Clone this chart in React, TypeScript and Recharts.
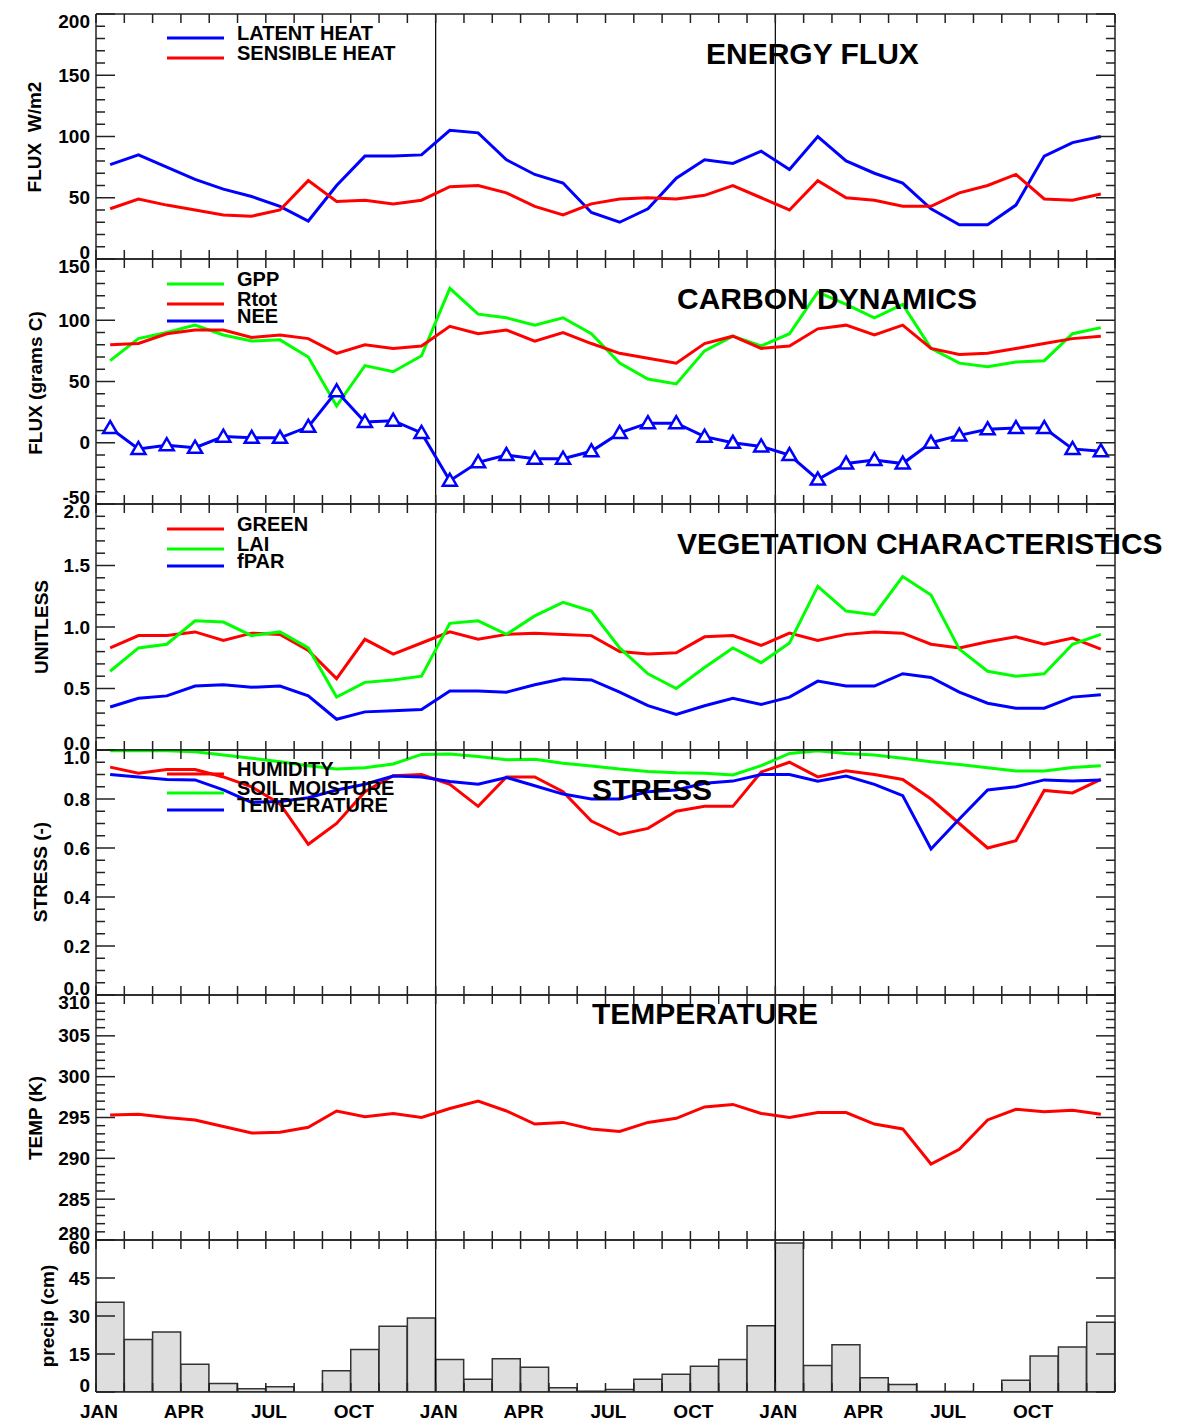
import React from "react";
import { LineChart, Line, BarChart, Bar, XAxis, YAxis, ReferenceLine } from "recharts";

// 3 years of monthly values
const LATENT = [77, 85, 75, 65, 57, 51, 43, 31, 60, 84, 84, 85, 105, 103, 81, 69, 62, 38, 30, 41, 66, 81, 78, 88, 73, 100, 80, 70, 62, 41, 28, 28, 44, 84, 95, 100];
const SENSIBLE = [41, 49, 44, 40, 36, 35, 40, 64, 47, 48, 45, 48, 59, 60, 54, 43, 36, 45, 49, 50, 49, 52, 60, 50, 40, 64, 50, 48, 43, 43, 54, 60, 69, 49, 48, 53];

const GPP = [67, 85, 90, 96, 88, 83, 84, 70, 30, 63, 58, 71, 126, 105, 102, 96, 102, 89, 65, 52, 48, 75, 87, 79, 89, 123, 113, 102, 113, 77, 65, 62, 66, 67, 89, 94];
const RTOT = [80, 81, 89, 92, 92, 86, 88, 85, 73, 80, 77, 79, 95, 89, 92, 83, 90, 81, 73, 69, 65, 81, 87, 77, 79, 93, 96, 88, 96, 77, 72, 73, 77, 81, 85, 87];
const NEE = [12, -5, -2, -4, 5, 4, 4, 13, 42, 17, 18, 8, -31, -16, -10, -13, -13, -7, 8, 16, 16, 5, 0, -3, -10, -30, -17, -14, -17, 0, 6, 11, 12, 12, -5, -7];

const GREEN = [0.83, 0.93, 0.93, 0.96, 0.89, 0.95, 0.94, 0.81, 0.58, 0.9, 0.78, 0.87, 0.96, 0.9, 0.94, 0.95, 0.94, 0.93, 0.8, 0.78, 0.79, 0.92, 0.93, 0.85, 0.95, 0.89, 0.94, 0.96, 0.95, 0.86, 0.83, 0.88, 0.92, 0.86, 0.91, 0.82];
const LAI = [0.64, 0.83, 0.86, 1.05, 1.04, 0.93, 0.96, 0.83, 0.43, 0.55, 0.57, 0.6, 1.03, 1.05, 0.94, 1.09, 1.2, 1.13, 0.83, 0.62, 0.5, 0.67, 0.83, 0.71, 0.87, 1.33, 1.13, 1.1, 1.41, 1.26, 0.82, 0.64, 0.6, 0.62, 0.86, 0.94];
const FPAR = [0.35, 0.42, 0.44, 0.52, 0.53, 0.51, 0.52, 0.44, 0.25, 0.31, 0.32, 0.33, 0.48, 0.48, 0.47, 0.53, 0.58, 0.57, 0.47, 0.36, 0.29, 0.36, 0.42, 0.37, 0.43, 0.56, 0.52, 0.52, 0.62, 0.59, 0.47, 0.38, 0.34, 0.34, 0.43, 0.45];

const HUMIDITY = [0.93, 0.905, 0.92, 0.92, 0.89, 0.85, 0.78, 0.615, 0.7, 0.83, 0.895, 0.9, 0.86, 0.77, 0.89, 0.89, 0.83, 0.71, 0.655, 0.68, 0.75, 0.77, 0.77, 0.91, 0.95, 0.89, 0.915, 0.9, 0.88, 0.8, 0.7, 0.6, 0.63, 0.835, 0.825, 0.88];
const SOIL = [0.997, 0.997, 0.997, 0.993, 0.98, 0.966, 0.952, 0.936, 0.922, 0.928, 0.943, 0.982, 0.984, 0.973, 0.96, 0.962, 0.946, 0.935, 0.922, 0.912, 0.907, 0.905, 0.898, 0.936, 0.986, 0.997, 0.986, 0.98, 0.966, 0.952, 0.941, 0.928, 0.914, 0.914, 0.929, 0.936];
const TSTRESS = [0.9, 0.89, 0.88, 0.878, 0.837, 0.786, 0.79, 0.805, 0.837, 0.86, 0.894, 0.89, 0.871, 0.86, 0.888, 0.854, 0.82, 0.8, 0.8, 0.83, 0.837, 0.864, 0.873, 0.9, 0.9, 0.873, 0.894, 0.86, 0.814, 0.596, 0.718, 0.837, 0.85, 0.878, 0.873, 0.878];

const TEMP = [295.3, 295.4, 295.0, 294.7, 293.9, 293.1, 293.2, 293.8, 295.8, 295.1, 295.5, 295.0, 296.1, 297.0, 295.8, 294.2, 294.4, 293.6, 293.3, 294.4, 294.9, 296.3, 296.6, 295.5, 295.0, 295.6, 295.6, 294.2, 293.6, 289.3, 291.1, 294.7, 296.0, 295.7, 295.9, 295.4];

const PRECIP = [35.4, 20.7, 23.7, 11.0, 3.4, 1.3, 2.1, 0, 8.4, 16.8, 26.0, 29.2, 12.8, 5.0, 13.1, 9.8, 1.7, 0.3, 1.0, 5.0, 7.0, 10.2, 12.8, 26.2, 58.8, 10.5, 18.7, 5.6, 3.0, 0.2, 0.2, 0.1, 4.6, 14.2, 17.8, 27.5];

const MONTH_TICKS = Array.from({ length: 37 }, (_, i) => i);
const LABEL_TICKS = [0, 3, 6, 9, 12, 15, 18, 21, 24, 27, 30, 33];
const LABEL_TEXT = ["JAN", "APR", "JUL", "OCT", "JAN", "APR", "JUL", "OCT", "JAN", "APR", "JUL", "OCT"];
const YEAR_LINES = [12, 24];

const W = 1196;
const PLOT_LEFT = 96;
const PLOT_RIGHT = 1115;
const PAD = 30;
const FRAME = "#222";
const BLUE = "#0000ff";
const RED = "#ff0000";
const GREEN_C = "#00ff00";
const FONT: React.CSSProperties = {
  fontFamily: "'Liberation Sans', Arial, Helvetica, sans-serif",
  fontWeight: "bold",
  fontSize: 19,
  fill: "#000",
};

type Series = { key: string; color: string; triangles?: boolean };
type Panel = {
  top: number;
  height: number;
  domain: [number, number];
  majors: number[];
  labels: string[];
  minorStep: number;
  series: Series[];
};

const rows = LATENT.map((_, i) => ({
  x: i + 0.5,
  latent: LATENT[i],
  sensible: SENSIBLE[i],
  gpp: GPP[i],
  rtot: RTOT[i],
  nee: NEE[i],
  green: GREEN[i],
  lai: LAI[i],
  fpar: FPAR[i],
  humidity: HUMIDITY[i],
  soil: SOIL[i],
  tstress: TSTRESS[i],
  temp: TEMP[i],
}));
const precipRows = PRECIP.map((p, i) => ({ m: i, p }));

const PANELS: Panel[] = [
  {
    top: 14, height: 245, domain: [0, 200], majors: [0, 50, 100, 150, 200],
    labels: ["0", "50", "100", "150", "200"], minorStep: 10,
    series: [{ key: "latent", color: BLUE }, { key: "sensible", color: RED }],
  },
  {
    top: 259, height: 245, domain: [-50, 150], majors: [-50, 0, 50, 100, 150],
    labels: ["-50", "0", "50", "100", "150"], minorStep: 10,
    series: [{ key: "gpp", color: GREEN_C }, { key: "rtot", color: RED }, { key: "nee", color: BLUE, triangles: true }],
  },
  {
    top: 504, height: 246, domain: [0, 2], majors: [0, 0.5, 1, 1.5, 2],
    labels: ["0.0", "0.5", "1.0", "1.5", "2.0"], minorStep: 0.1,
    series: [{ key: "green", color: RED }, { key: "lai", color: GREEN_C }, { key: "fpar", color: BLUE }],
  },
  {
    top: 750, height: 245, domain: [0, 1], majors: [0, 0.2, 0.4, 0.6, 0.8, 1],
    labels: ["0.0", "0.2", "0.4", "0.6", "0.8", "1.0"], minorStep: 0.05,
    series: [{ key: "soil", color: GREEN_C }, { key: "humidity", color: RED }, { key: "tstress", color: BLUE }],
  },
  {
    top: 995, height: 245, domain: [280, 310], majors: [280, 285, 290, 295, 300, 305, 310],
    labels: ["280", "285", "290", "295", "300", "305", "310"], minorStep: 1,
    series: [{ key: "temp", color: RED }],
  },
];

const PRECIP_PANEL: Panel = {
  top: 1240, height: 152, domain: [0, 60], majors: [0, 15, 30, 45, 60],
  labels: ["0", "15", "30", "45", "60"], minorStep: 15, series: [],
};

function yTicks(p: Panel) {
  const out: number[] = [];
  const n = Math.round((p.domain[1] - p.domain[0]) / p.minorStep);
  for (let i = 0; i <= n; i++) out.push(Math.round((p.domain[0] + i * p.minorStep) * 1000) / 1000);
  return out;
}

function YTick(props: any) {
  const { y, payload, side, panel } = props;
  const x = side === "left" ? PLOT_LEFT : PLOT_RIGHT;
  const v = payload.value;
  const mi = panel.majors.findIndex((m: number) => Math.abs(m - v) < 1e-6);
  const len = mi >= 0 ? 19 : 9;
  const d = side === "left" ? 1 : -1;
  let dy = 0;
  if (mi === panel.majors.length - 1) dy = 7;
  if (mi === 0) dy = -7;
  return (
    <g>
      <line x1={x} x2={x + d * len} y1={y} y2={y} stroke={FRAME} strokeWidth={1.5} />
      {side === "left" && mi >= 0 && (
        <text x={x - 6} y={y + dy} textAnchor="end" dominantBaseline="central" style={FONT}>
          {panel.labels[mi]}
        </text>
      )}
    </g>
  );
}

// month ticks: inward from the bottom edge and from the top edge of the panel
function XTick(props: any) {
  const { x, payload, top, bottom, showLabels } = props;
  if (x < PLOT_LEFT - 1 || x > PLOT_RIGHT + 1) return <g />;
  const idx = LABEL_TICKS.indexOf(payload.value);
  return (
    <g>
      <line x1={x} x2={x} y1={bottom} y2={bottom - 9} stroke={FRAME} strokeWidth={1.5} />
      <line x1={x} x2={x} y1={top} y2={top + 9} stroke={FRAME} strokeWidth={1.5} />
      {showLabels && idx >= 0 && (
        <text x={x + 3} y={bottom + 19} textAnchor="middle" dominantBaseline="central" style={FONT}>
          {LABEL_TEXT[idx]}
        </text>
      )}
    </g>
  );
}

function Triangle(props: any) {
  const { cx, cy } = props;
  if (cx == null || cy == null) return null;
  return (
    <polygon
      points={`${cx},${cy - 7} ${cx - 7},${cy + 5} ${cx + 7},${cy + 5}`}
      fill="#fff"
      stroke={BLUE}
      strokeWidth={2.5}
    />
  );
}

// axes get a 1px box so that they render; the margins below absorb it
function axes(p: Panel, showLabels: boolean) {
  const axisLine = { stroke: FRAME, strokeWidth: 1.5 };
  const ticks = yTicks(p);
  const top = PAD;
  const bottom = PAD + p.height;
  return [
    <XAxis
      key="xb" xAxisId="b" type="number" dataKey="x" domain={[0, 36]} allowDataOverflow
      ticks={MONTH_TICKS} interval={0} height={1} tickSize={0} tickMargin={0}
      tickLine={false} axisLine={axisLine}
      tick={(t: any) => <XTick {...t} top={top} bottom={bottom} showLabels={showLabels} />}
    />,
    <XAxis
      key="xt" xAxisId="t" orientation="top" type="number" dataKey="x" domain={[0, 36]} allowDataOverflow
      height={1} tick={false} tickLine={false} axisLine={axisLine}
    />,
    <YAxis
      key="yl" yAxisId="l" type="number" domain={p.domain} allowDataOverflow
      ticks={ticks} interval={0} width={1} tickSize={0} tickMargin={0}
      tickLine={false} axisLine={axisLine}
      tick={(t: any) => <YTick {...t} side="left" panel={p} />}
    />,
    <YAxis
      key="yr" yAxisId="r" orientation="right" type="number" domain={p.domain} allowDataOverflow
      ticks={ticks} interval={0} width={1} tickSize={0} tickMargin={0}
      tickLine={false} axisLine={axisLine}
      tick={(t: any) => <YTick {...t} side="right" panel={p} />}
    />,
    ...YEAR_LINES.map((yr) => (
      <ReferenceLine key={"yr" + yr} xAxisId="b" yAxisId="l" x={yr} stroke="#000" strokeWidth={1.2} />
    )),
  ];
}

const margin = { top: PAD - 1, bottom: PAD - 1, left: PLOT_LEFT - 1, right: W - PLOT_RIGHT - 1 };

function LinePanel({ p }: { p: Panel }) {
  return (
    <div style={{ position: "absolute", left: 0, top: p.top - PAD }}>
      <LineChart width={W} height={p.height + 2 * PAD} data={rows} margin={margin}>
        {axes(p, false)}
        {p.series.map((s) => (
          <Line
            key={s.key}
            xAxisId="b"
            yAxisId="l"
            type="linear"
            dataKey={s.key}
            stroke={s.color}
            strokeWidth={3}
            dot={s.triangles ? (d: any) => <Triangle key={d.index} {...d} /> : false}
            activeDot={false}
            isAnimationActive={false}
          />
        ))}
      </LineChart>
    </div>
  );
}

function PrecipPanel() {
  const p = PRECIP_PANEL;
  return (
    <div style={{ position: "absolute", left: 0, top: p.top - PAD }}>
      <BarChart width={W} height={p.height + 2 * PAD} data={precipRows} margin={margin} barCategoryGap={0} barGap={0}>
        <XAxis xAxisId="c" dataKey="m" type="category" hide />
        <Bar xAxisId="c" yAxisId="l" dataKey="p" fill="#dedede" stroke="#333" strokeWidth={1.5} isAnimationActive={false} />
        {axes(p, true)}
      </BarChart>
    </div>
  );
}

const TITLES = [
  { text: "ENERGY FLUX", x: 706, y: 53 },
  { text: "CARBON DYNAMICS", x: 677, y: 298 },
  { text: "VEGETATION CHARACTERISTICS", x: 677, y: 543 },
  { text: "STRESS", x: 592, y: 789 },
  { text: "TEMPERATURE", x: 592, y: 1013 },
];

const LEGENDS = [
  { text: "LATENT HEAT", color: BLUE, y: 33 },
  { text: "SENSIBLE HEAT", color: RED, y: 53 },
  { text: "GPP", color: GREEN_C, y: 279 },
  { text: "Rtot", color: RED, y: 299 },
  { text: "NEE", color: BLUE, y: 316 },
  { text: "GREEN", color: RED, y: 524 },
  { text: "LAI", color: GREEN_C, y: 544 },
  { text: "fPAR", color: BLUE, y: 561 },
  { text: "HUMIDITY", color: RED, y: 769 },
  { text: "SOIL MOISTURE", color: GREEN_C, y: 788 },
  { text: "TEMPERATURE", color: BLUE, y: 805 },
];

const Y_TITLES = [
  { text: "FLUX  W/m2", x: 34, y: 137 },
  { text: "FLUX (grams C)", x: 35, y: 383 },
  { text: "UNITLESS", x: 41, y: 627 },
  { text: "STRESS (-)", x: 40, y: 872 },
  { text: "TEMP (K)", x: 35, y: 1118 },
  { text: "precip (cm)", x: 47, y: 1316 },
];

function Overlay() {
  return (
    <svg width={W} height={1423} style={{ position: "absolute", left: 0, top: 0, pointerEvents: "none" }}>
      {LEGENDS.map((l) => (
        <g key={l.text + l.y}>
          <line x1={167} x2={224} y1={l.y + 5} y2={l.y + 5} stroke={l.color} strokeWidth={3} />
          <text x={237} y={l.y} dominantBaseline="central" style={{ ...FONT, fontSize: 20 }}>
            {l.text}
          </text>
        </g>
      ))}
      {TITLES.map((t) => (
        <text key={t.text + t.y} x={t.x} y={t.y} dominantBaseline="central" style={{ ...FONT, fontSize: 30 }}>
          {t.text}
        </text>
      ))}
      {Y_TITLES.map((t) => (
        <text
          key={t.text}
          x={t.x}
          y={t.y}
          textAnchor="middle"
          dominantBaseline="central"
          transform={`rotate(-90 ${t.x} ${t.y})`}
          style={{ ...FONT, whiteSpace: "pre" }}
        >
          {t.text}
        </text>
      ))}
    </svg>
  );
}

export default function App() {
  return (
    <div style={{ position: "absolute", left: 0, top: 0, width: W, height: 1423, background: "#fff" }}>
      {PANELS.map((p) => (
        <LinePanel key={p.top} p={p} />
      ))}
      <PrecipPanel />
      <Overlay />
    </div>
  );
}
